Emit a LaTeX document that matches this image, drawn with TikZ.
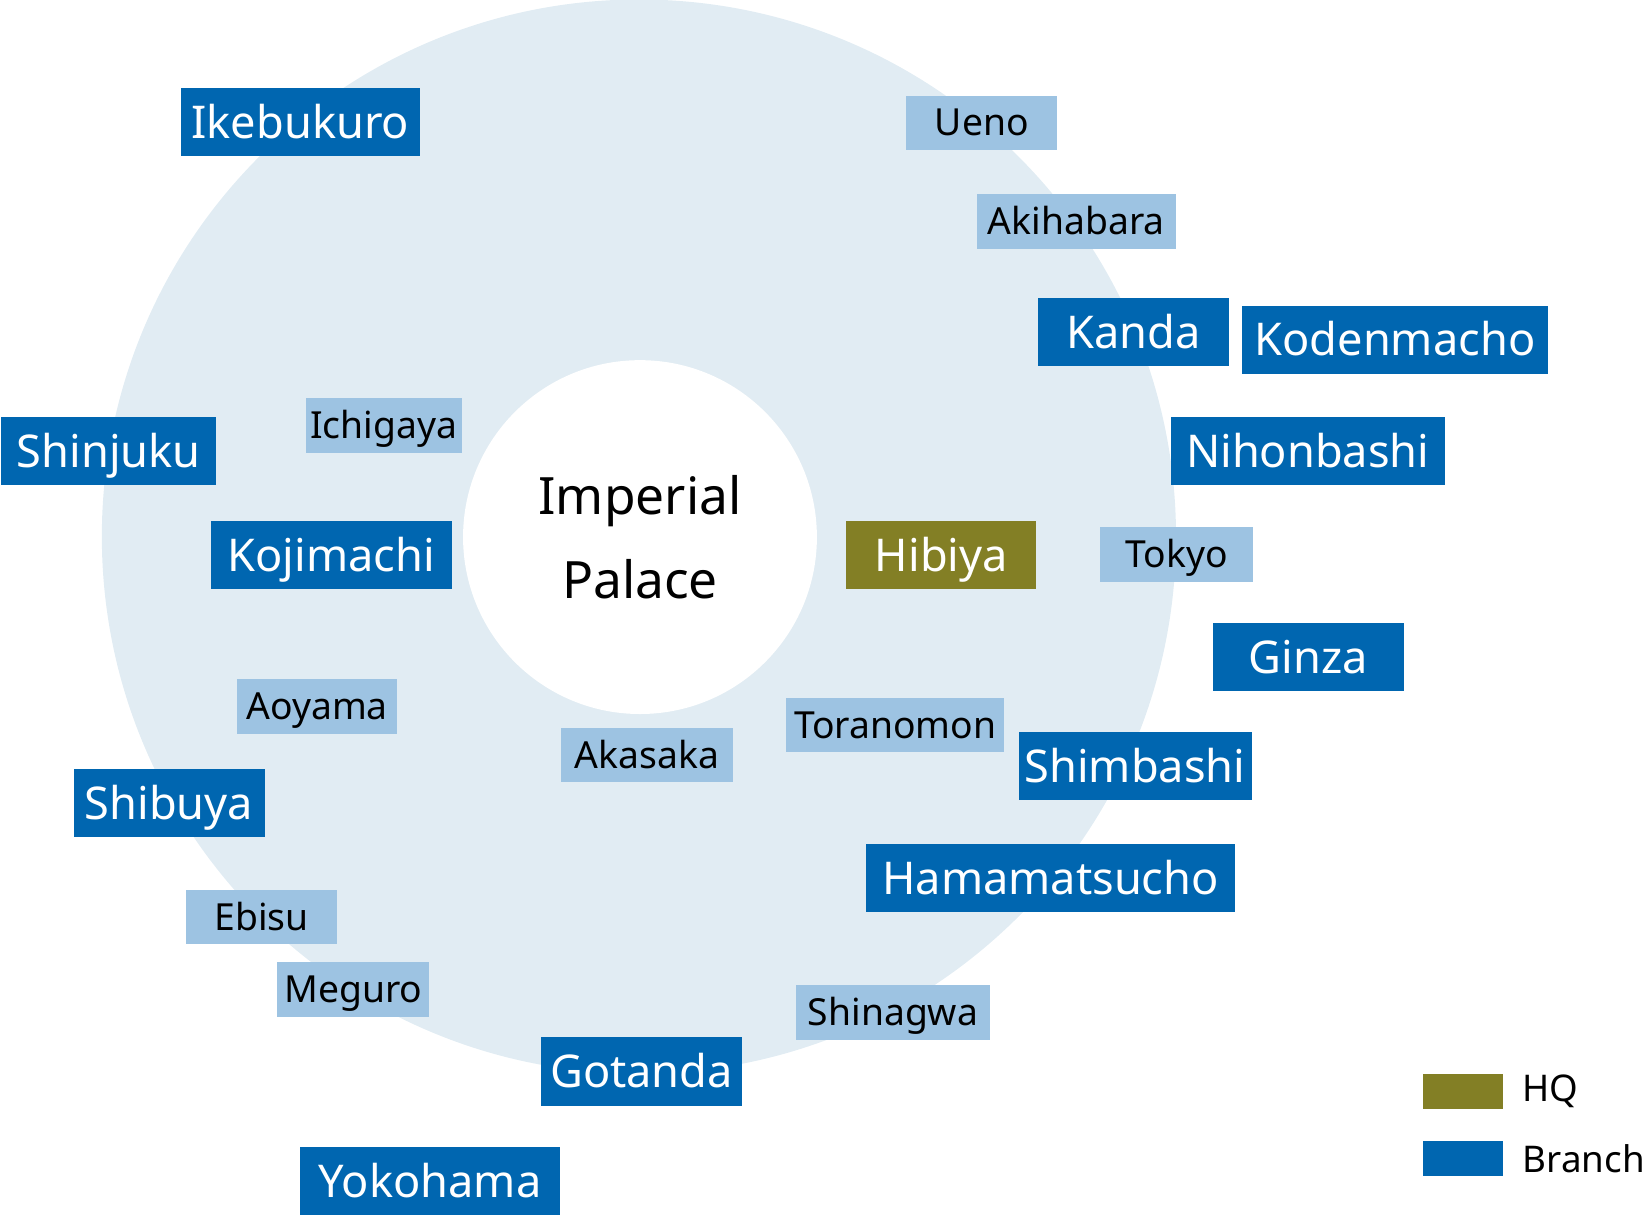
\documentclass[tikz,border=0pt]{standalone}
\usepackage{fontspec}
\setmainfont{Noto Sans}
\definecolor{ringblue}{HTML}{E1ECF3}
\definecolor{darkblue}{HTML}{0066B0}
\definecolor{lightblue}{HTML}{9DC3E2}
\definecolor{olive}{HTML}{837F25}

\begin{document}
\begin{tikzpicture}[x=1pt,y=-1pt,
	branch/.style={fill=darkblue, text=white, minimum height=65, inner sep=0,
		text height=31pt, text depth=0pt, font=\fontsize{43}{52}\selectfont},
	hq/.style={branch, fill=olive},
	office/.style={fill=lightblue, text=black, minimum height=52, inner sep=0,
		text height=25pt, text depth=0pt, font=\fontsize{35.5}{42}\selectfont},
	legendkey/.style={minimum width=76, minimum height=33, inner sep=0},
	legendtext/.style={anchor=west, inner sep=0, font=\fontsize{35}{42}\selectfont}
	]
	\useasboundingbox (0,0) rectangle (1565.7,1156.2);
	\fill[ringblue] (608.5,511) circle (511.5);
	\fill[white] (609.5,511.5) circle (168.5);
	\node[align=center, font=\fontsize{49}{79.3}\selectfont] (palace) at (609.5,511.5) {Imperial\\Palace};
	
	\node[branch, minimum width=228] (ikebukuro) at (286,116.5) {Ikebukuro};
	\node[branch, minimum width=181] (kanda) at (1079.5,316.5) {Kanda};
	\node[branch, minimum width=291] (kodenmacho) at (1328.5,323.5) {Kodenmacho};
	\node[branch, minimum width=261] (nihonbashi) at (1245.5,429.5) {Nihonbashi};
	\node[branch, minimum width=205] (shinjuku) at (103.5,429.5) {Shinjuku};
	\node[branch, minimum width=229] (kojimachi) at (315.5,528.5) {Kojimachi};
	\node[hq, minimum width=181] (hibiya) at (896.5,528.5) {Hibiya};
	\node[branch, minimum width=182] (ginza) at (1246,625.5) {Ginza};
	\node[branch, minimum width=222] (shimbashi) at (1081,729.5) {Shimbashi};
	\node[branch, minimum width=182] (shibuya) at (161,764.5) {Shibuya};
	\node[branch, minimum width=351] (hamamatsucho) at (1000.5,836.5) {Hamamatsucho};
	\node[branch, minimum width=192] (gotanda) at (611,1020.5) {Gotanda};
	\node[branch, minimum width=247] (yokohama) at (409.5,1124.5) {Yokohama};
	
	\node[office, minimum width=144] (ueno) at (935,117) {Ueno};
	\node[office, minimum width=190] (akihabara) at (1025,211) {Akihabara};
	\node[office, minimum width=149] (ichigaya) at (365.5,405) {Ichigaya};
	\node[office, minimum width=145] (tokyo) at (1120.5,528) {Tokyo};
	\node[office, minimum width=152] (aoyama) at (302,673) {Aoyama};
	\node[office, minimum width=164] (akasaka) at (616,719) {Akasaka};
	\node[office, minimum width=207] (toranomon) at (852.5,690.5) {Toranomon};
	\node[office, minimum width=144] (ebisu) at (249,873.5) {Ebisu};
	\node[office, minimum width=145] (meguro) at (336.5,942.5) {Meguro};
	\node[office, minimum width=185] (shinagwa) at (850.5,964) {Shinagwa};
	
	\node[legendkey, fill=olive] (keyhq) at (1393,1039.5) {};
	\node[legendtext] (texthq) at (1450,1039.5) {HQ};
	\node[legendkey, fill=darkblue] (keybranch) at (1393,1103.5) {};
	\node[legendtext] (textbranch) at (1450,1103.5) {Branch};
\end{tikzpicture}
\end{document}
